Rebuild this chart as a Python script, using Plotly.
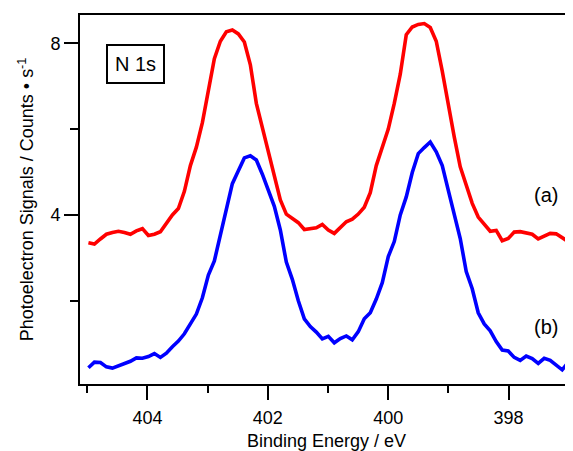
import numpy as np
import plotly.graph_objects as go

# binding energy grid (eV), spectra
energy = np.linspace(404.98, 397.01, 81)

signal_a = [3.35, 3.32, 3.44, 3.55, 3.59, 3.62, 3.59, 3.55, 3.63, 3.68,
            3.52, 3.55, 3.61, 3.80, 4.00, 4.15, 4.55, 5.15, 5.58, 6.15,
            6.91, 7.64, 8.05, 8.27, 8.31, 8.22, 8.03, 7.50, 6.60, 6.03,
            5.48, 4.87, 4.35, 4.02, 3.93, 3.82, 3.66, 3.68, 3.70, 3.78,
            3.65, 3.57, 3.72, 3.84, 3.90, 4.02, 4.18, 4.52, 5.15, 5.60,
            6.00, 6.60, 7.28, 8.20, 8.38, 8.44, 8.46, 8.37, 8.05, 7.35,
            6.55, 5.82, 5.12, 4.66, 4.27, 3.95, 3.77, 3.62, 3.64, 3.40,
            3.45, 3.60, 3.61, 3.57, 3.55, 3.44, 3.50, 3.57, 3.56, 3.47,
            3.38]

signal_b = [0.44, 0.57, 0.56, 0.46, 0.43, 0.48, 0.52, 0.59, 0.67, 0.66,
            0.70, 0.77, 0.68, 0.78, 0.93, 1.06, 1.23, 1.45, 1.69, 2.07,
            2.60, 2.93, 3.53, 4.13, 4.73, 5.03, 5.33, 5.38, 5.28, 4.95,
            4.56, 4.20, 3.65, 2.90, 2.50, 2.00, 1.58, 1.40, 1.27, 1.11,
            1.17, 1.02, 1.12, 1.18, 1.09, 1.28, 1.58, 1.72, 2.04, 2.42,
            3.03, 3.38, 4.00, 4.42, 4.99, 5.43, 5.57, 5.70, 5.47, 5.15,
            4.58, 4.05, 3.45, 2.68, 2.28, 1.72, 1.46, 1.30, 1.05, 0.85,
            0.83, 0.68, 0.61, 0.71, 0.65, 0.54, 0.66, 0.61, 0.50, 0.39,
            0.56]

FONT = "Liberation Sans, Arial, sans-serif"

# the page body adds 8 px around the figure, so the canvas is shrunk by that
OFF = 8
W, H = 573 - OFF, 451 - OFF
L, R, T, B = 80 - OFF, 0, 15 - OFF, 67
pw, ph = W - L - R, H - T - B

fig = go.Figure()
fig.add_trace(go.Scatter(x=energy, y=signal_a, mode="lines",
                         line=dict(color="#ff0000", width=3.6), name="(a)"))
fig.add_trace(go.Scatter(x=energy, y=signal_b, mode="lines",
                         line=dict(color="#0000ff", width=3.6), name="(b)"))

axis_common = dict(showgrid=False, zeroline=False, showline=True,
                   linecolor="black", linewidth=2, ticks="outside",
                   tickcolor="black", tickwidth=2, ticklen=14,
                   automargin=False,
                   tickfont=dict(family=FONT, size=18, color="black"))

fig.update_xaxes(range=[405.12, 396.93], dtick=2, tick0=398, mirror=True,
                 ticklabelstandoff=2,
                 minor=dict(dtick=1, tick0=397, ticklen=7, tickwidth=2,
                            tickcolor="black", ticks="outside"),
                 title=dict(text="Binding Energy / eV", standoff=12,
                            font=dict(family=FONT, size=18, color="black")),
                 **axis_common)
fig.update_yaxes(range=[0.06, 8.66], dtick=4, tick0=0,
                 minor=dict(dtick=2, tick0=0, ticklen=8, tickwidth=2,
                            tickcolor="black", ticks="outside"),
                 title=dict(text="Photoelectron Signals / Counts \u2022 s<sup>-1</sup>",
                            standoff=12,
                            font=dict(family=FONT, size=18, color="black")),
                 **axis_common)

# annotation positions in page pixels of the 573x451 view
notes = [("N 1s", 135, 64, True), ("(a)", 546, 195, False), ("(b)", 546, 327, False)]
for text, px, py, boxed in notes:
    fig.add_annotation(xref="paper", yref="paper",
                       x=(px - OFF - L) / pw, y=1 - (py - OFF - T) / ph,
                       xanchor="center", yanchor="middle", text=text,
                       showarrow=False,
                       font=dict(family=FONT, size=20, color="black"),
                       bordercolor="black" if boxed else None,
                       borderwidth=2 if boxed else 0, borderpad=7)

fig.update_layout(width=W, height=H, showlegend=False,
                  margin=dict(l=L, r=R, t=T, b=B),
                  plot_bgcolor="white", paper_bgcolor="white",
                  font=dict(family=FONT, color="black"))

fig.write_html("out.html")
